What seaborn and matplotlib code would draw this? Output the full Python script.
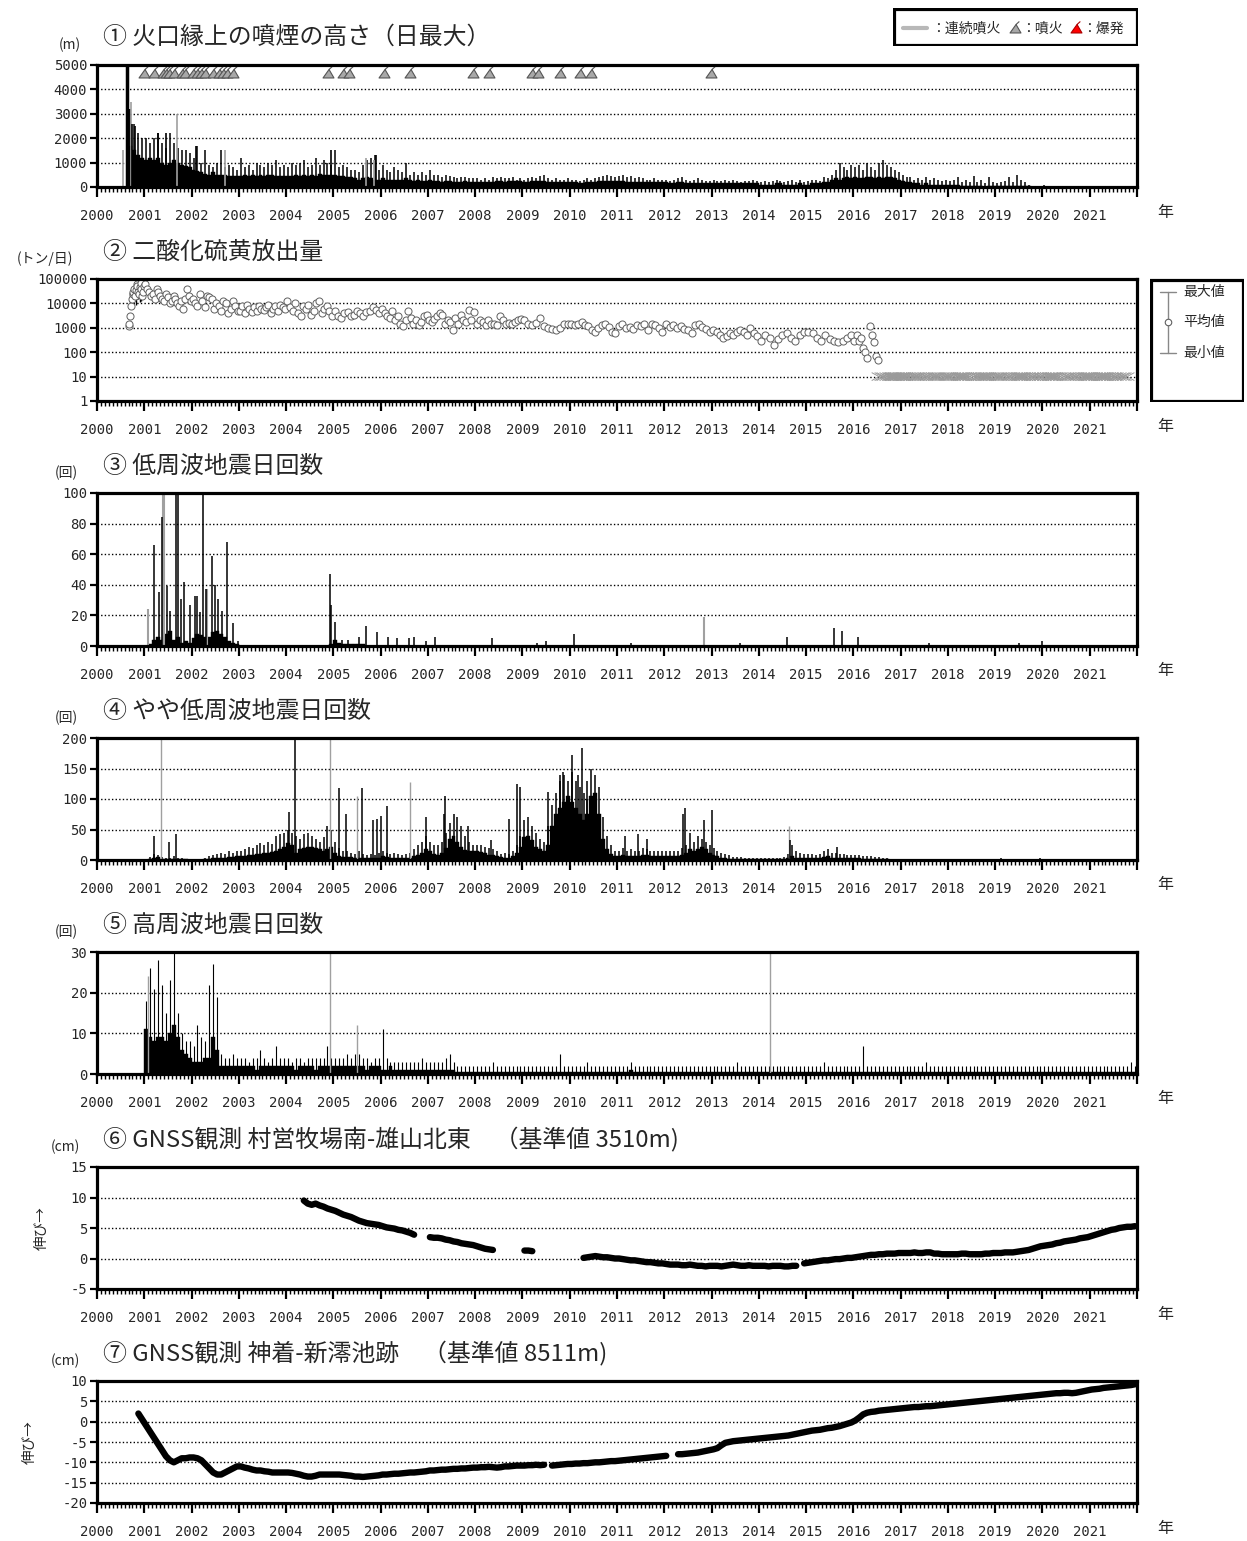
"""
Miyakejima volcanic activity summary (2000-2021), redrawn with seaborn
"""

import numpy as np
import pandas as pd
import matplotlib
matplotlib.use("Agg")
import matplotlib.pyplot as plt
from matplotlib.path import Path
from matplotlib.patches import Rectangle
import seaborn as sns

nan = np.nan
W, H = 1247, 1541

# ---------------------------------------------------------------- data
# (1) plume height above crater rim, monthly level / monthly peak (m), Jan 2000 - Dec 2021
plume_base = [
    0, 0, 0, 0, 0, 0, 0, 0, 1700, 1500, 1300, 1200,           # 2000
    1100, 1200, 1100, 1200, 1000, 900, 1000, 1100, 1000, 900, 850, 800,
    700, 650, 600, 550, 500, 600, 500, 500, 500, 450, 450, 450,
    450, 500, 450, 500, 450, 500, 450, 500, 500, 450, 450, 450,
    450, 450, 500, 450, 500, 450, 500, 450, 550, 500, 500, 500,
    500, 450, 450, 400, 400, 350, 300, 350, 400, 350, 300, 300,  # 2005
    350, 300, 300, 300, 300, 300, 350, 300, 250, 300, 250, 250,
    300, 250, 250, 200, 250, 250, 200, 200, 200, 250, 200, 200,
    200, 200, 200, 200, 200, 250, 250, 200, 250, 250, 250, 250,
    200, 200, 250, 250, 250, 250, 200, 200, 200, 200, 200, 200,
    200, 200, 150, 150, 200, 200, 200, 250, 250, 250, 250, 250,  # 2010
    250, 250, 200, 200, 200, 200, 200, 200, 200, 200, 200, 200,
    200, 150, 150, 200, 200, 150, 150, 150, 150, 150, 150, 150,
    150, 150, 150, 150, 150, 150, 150, 150, 150, 150, 150, 150,
    100, 100, 100, 100, 150, 150, 100, 100, 100, 100, 150, 100,
    100, 150, 150, 150, 200, 200, 300, 350, 300, 350, 400, 350,  # 2015
    400, 350, 350, 400, 400, 350, 400, 350, 400, 400, 350, 300,
    250, 200, 200, 150, 150, 100, 150, 100, 100, 100, 100, 100,
    100, 100, 80, 50, 50, 50, 50, 50, 50, 0, 50, 50,
    50, 50, 50, 50, 50, 50, 50, 50, 50, 0, 0, 0,
    0, 0, 0, 0, 0, 0, 0, 0, 0, 0, 0, 0,                       # 2020
    0, 0, 0, 0, 0, 0, 0, 0, 0, 0, 0, 0,
]
plume_peak = [
    0, 0, 0, 0, 0, 0, 0, 0, 3200, 2600, 2200, 2000,
    2000, 1800, 2000, 2200, 1800, 1600, 2200, 1800, 1600, 1500, 1500, 1400,
    1200, 1700, 1000, 1500, 900, 800, 1000, 1500, 800, 900, 800, 700,
    1200, 800, 900, 700, 1000, 900, 800, 1000, 900, 1100, 800, 900,
    800, 1000, 900, 1000, 1100, 800, 900, 1200, 900, 1100, 1000, 900,
    1500, 800, 900, 800, 700, 700, 600, 900, 1100, 1200, 1300, 700,
    900, 700, 600, 800, 700, 600, 1000, 500, 600, 500, 600, 500,
    700, 500, 500, 400, 500, 450, 400, 350, 400, 400, 350, 350,
    350, 300, 350, 300, 400, 350, 400, 350, 350, 400, 300, 350,
    300, 350, 400, 350, 450, 500, 350, 300, 350, 300, 300, 350,
    300, 300, 250, 300, 350, 300, 350, 400, 450, 500, 450, 400,
    450, 500, 400, 450, 350, 400, 350, 300, 300, 350, 300, 300,
    300, 250, 300, 350, 400, 300, 250, 300, 350, 300, 250, 250,
    300, 250, 250, 300, 250, 300, 250, 200, 250, 250, 300, 250,
    200, 250, 200, 250, 300, 250, 200, 250, 300, 200, 300, 200,
    250, 300, 300, 250, 400, 350, 500, 700, 1000, 800, 700, 900,
    800, 900, 700, 1000, 800, 700, 1000, 1100, 900, 800, 700, 600,
    500, 400, 400, 300, 350, 300, 400, 300, 350, 300, 250, 300,
    250, 300, 400, 200, 300, 200, 450, 200, 300, 150, 400, 200,
    150, 200, 250, 400, 200, 500, 300, 200, 100, 0, 0, 0,
    100, 0, 0, 0, 0, 0, 0, 0, 0, 0, 0, 0,
    0, 0, 0, 0, 0, 0, 0, 0, 0, 0, 0, 0,
]
plume_spike_t = [2000.63, 2000.68, 2000.75, 2000.80, 2001.30, 2001.45, 2002.10, 2004.95, 2005.90]
plume_spike_v = [5000, 3200, 2600, 2500, 2200, 2200, 1700, 1500, 1300]
plume_gray_t = [2000.55, 2000.72, 2001.70, 2002.70, 2005.70, 2005.85]
plume_gray_v = [1500, 3500, 3000, 1500, 1200, 1100]
eruption_t = [2001.00, 2001.21, 2001.39, 2001.46, 2001.52, 2001.63, 2001.79, 2001.86,
              2002.04, 2002.12, 2002.21, 2002.28, 2002.46, 2002.58, 2002.67, 2002.75,
              2002.88, 2004.88, 2005.21, 2005.33, 2006.08, 2006.63, 2007.96, 2008.29,
              2009.21, 2009.33, 2009.79, 2010.21, 2010.46, 2012.98]

# (2) SO2 emission (t/day), survey values per year
so2_2000 = [1200, 1500, 3000, 8000, 15000, 25000, 30000, 40000, 20000, 35000,
            60000, 50000, 30000, 25000, 45000, 70000, 40000, 20000, 30000, 50000]
so2_2001 = [60000, 40000, 30000, 20000, 25000, 15000, 40000, 30000, 20000, 15000, 12000, 25000,
            18000, 10000, 12000, 20000, 15000, 10000, 8000, 12000, 6000, 15000, 40000, 20000, 12000]
so2_2002 = [15000, 10000, 8000, 25000, 12000, 7000, 20000, 18000, 15000, 6000,
            10000, 8000, 5000, 12000, 10000, 4000, 6000, 12000, 8000, 5000]
so2_2003 = [5000, 8000, 4000, 9000, 6000, 4500, 7000, 5000, 8000, 6000,
            5500, 7000, 9000, 4000, 6000, 8000, 5000, 9000, 7000, 6000]
so2_2004 = [12000, 7000, 5000, 10000, 4000, 3000, 8000, 6000, 9000, 3500,
            5000, 10000, 12000, 4000, 6000, 8000, 5000, 3000]
so2_2005 = [5000, 3000, 2500, 4000, 4500, 3000, 3500, 5000, 4000, 3000, 4500, 5000, 7000, 5500, 4000]
so2_2006 = [6000, 4000, 3000, 2500, 5000, 2000, 3000, 1500, 1200, 2000, 5000, 2500,
            1500, 2000, 1300, 1800, 3000, 3500]
so2_2007 = [2000, 1800, 2200, 3000, 4000, 3500, 1500, 2000, 1800, 800, 2500, 1500,
            3500, 2000, 1700, 5500, 2000, 4500]
so2_2008 = [1500, 2000, 1800, 1300, 2000, 1500, 1400, 1300, 3000, 2000, 1500, 1600, 1400, 1800, 2000, 2200]
so2_2009 = [2000, 1500, 1300, 1600, 2500, 1200, 1000, 900, 800, 1000, 1500, 1400]
so2_2010 = [1500, 1300, 1400, 1700, 1300, 1200, 800, 700, 1000, 1300, 1400, 1100, 700, 600]
so2_2011 = [1200, 1400, 1000, 1100, 900, 1300, 1200, 1500, 800, 1400, 1300, 1000, 700]
so2_2012 = [1400, 1100, 1300, 1000, 1200, 900, 800, 600, 1300, 1400, 1100, 900, 700]
so2_2013 = [800, 700, 500, 400, 450, 600, 500, 700, 800, 650, 500, 1000, 600, 450]
so2_2014 = [300, 500, 400, 200, 350, 500, 600, 400, 300, 500, 650]
so2_2015 = [700, 600, 400, 300, 500, 350, 300, 250, 300, 400, 500]
so2_2016 = [300, 500, 300, 400, 150, 100, 60, 1200, 500, 250, 70, 50]
so2_err_t = [2000.70, 2000.74, 2000.78, 2000.82, 2000.86, 2000.90, 2000.94]
so2_err_lo = [8000, 10000, 12000, 9000, 15000, 11000, 13000]
so2_err_hi = [30000, 40000, 35000, 45000, 40000, 30000, 38000]
# below detection (plotted at 10 t/day): surveys per month, Jul 2016 - Oct 2021
so2_low_count = [
    1, 2, 1, 3, 3, 2,
    3, 2, 1, 2, 2, 1, 2, 1, 2, 2, 1, 2,
    2, 1, 2, 3, 2, 1, 1, 2, 2, 3, 2, 1,
    2, 2, 1, 2, 1, 2, 3, 2, 1, 2, 1, 2,
    1, 2, 3, 2, 1, 1, 2, 1, 2, 1, 2, 3,
    2, 1, 2, 3, 2, 1, 2, 1, 2, 1,
]
SO2_LOW = 10

# (3) low-frequency earthquakes per day, monthly level, Jan 2000 - Dec 2005
lf_base = [
    0, 0, 0, 0, 0, 0, 0, 0, 0, 0, 0, 0,
    0, 1, 4, 6, 4, 8, 10, 4, 6, 2, 3, 2,
    5, 8, 7, 6, 6, 9, 10, 8, 6, 3, 2, 1,
    0, 0, 0, 0, 0, 0, 0, 0, 0, 0, 0, 0,
    0, 0, 0, 0, 0, 0, 0, 0, 0, 0, 0, 1,
    4, 2, 1, 1, 1, 1, 1, 1, 0, 0, 0, 0,
]
lf_spike_t = [2001.21, 2001.32, 2001.375, 2001.48, 2001.54, 2001.68, 2001.72, 2001.77, 2001.85,
              2001.96, 2002.07, 2002.11, 2002.17, 2002.25, 2002.30, 2002.44, 2002.50, 2002.57,
              2002.65, 2002.75, 2002.87, 2002.98, 2004.925, 2004.96, 2005.04, 2005.18, 2005.30,
              2005.55, 2005.68, 2005.92, 2006.15, 2006.35, 2006.60, 2006.70, 2006.95, 2007.15,
              2008.35, 2009.30, 2009.50, 2010.08, 2011.30, 2013.60, 2014.60, 2015.60, 2015.75,
              2016.10, 2017.60, 2019.50, 2020.00]
lf_spike_v = [66, 35, 84, 39, 23, 100, 100, 31, 42, 27, 33, 33, 22, 100, 37, 59, 40, 31, 23, 68,
              15, 3, 47, 27, 16, 4, 4, 6, 13, 9, 6, 5, 5, 6, 3, 6, 5, 2, 3, 8, 2, 2, 6, 12, 10,
              6, 2, 2, 3]
lf_gray_t = [2001.07, 2001.39, 2001.41, 2002.33, 2012.85]
lf_gray_v = [24, 100, 100, 37, 19]

# (4) slightly-low-frequency earthquakes per day, monthly level / peak
vlf_base = [
    0, 0, 0, 0, 0, 0, 0, 0, 0, 0, 0, 0,
    0, 2, 4, 5, 2, 2, 1, 2, 1, 1, 1, 0,
    0, 0, 0, 1, 2, 3, 3, 4, 4, 5, 5, 6,
    6, 7, 8, 8, 10, 10, 12, 12, 13, 15, 18, 22,
    28, 25, 12, 18, 20, 22, 22, 20, 18, 15, 18, 22,
    12, 7, 5, 5, 5, 4, 4, 4, 3, 3, 3, 4,
    6, 5, 4, 4, 4, 3, 3, 4, 6, 8, 12, 18,
    14, 10, 9, 12, 20, 35, 40, 30, 22, 17, 14, 14,
    14, 13, 11, 9, 9, 7, 5, 4, 4, 6, 12, 22,
    38, 40, 32, 22, 18, 14, 25, 55, 75, 85, 95, 105,
    95, 85, 75, 65, 75, 105, 110, 75, 35, 18, 10, 7,
    7, 9, 7, 7, 7, 7, 8, 8, 7, 7, 7, 7,
    7, 7, 7, 7, 9, 12, 18, 14, 18, 22, 18, 12,
    9, 7, 4, 3, 2, 2, 1, 1, 1, 1, 1, 1,
    1, 1, 1, 1, 1, 1, 2, 3, 6, 4, 4, 4,
    4, 3, 3, 4, 5, 6, 4, 4, 3, 3, 3, 3,
    3, 3, 2, 2, 2, 2, 2, 1, 1, 0, 0, 0,
    0, 0, 0, 0, 0, 0, 0, 0, 0, 0, 0, 0,
    0, 0, 0, 0, 0, 0, 0, 0, 0, 0, 0, 0,
    0, 0, 0, 0, 0, 0, 0, 0, 0, 0, 0, 0,
    0, 0, 0, 0, 0, 0, 0, 0, 0, 0, 0, 0,
    0, 0, 0, 0, 0, 0, 0, 0, 0, 0, 0, 0,
]
vlf_peak = [
    0, 0, 0, 0, 0, 0, 0, 0, 0, 0, 0, 0,
    0, 5, 10, 8, 5, 4, 3, 6, 4, 3, 2, 2,
    0, 0, 2, 3, 6, 8, 10, 12, 10, 14, 12, 15,
    15, 18, 22, 20, 25, 28, 25, 30, 26, 40, 42, 45,
    50, 45, 40, 35, 42, 45, 40, 35, 30, 38, 55, 50,
    30, 20, 15, 15, 12, 10, 15, 10, 8, 10, 8, 12,
    15, 12, 10, 12, 10, 8, 10, 12, 18, 25, 30, 40,
    30, 25, 25, 30, 45, 60, 75, 70, 55, 40, 30, 25,
    25, 25, 22, 20, 18, 15, 10, 12, 10, 15, 25, 40,
    65, 70, 55, 45, 35, 30, 55, 90, 110, 130, 140, 130,
    145, 130, 120, 110, 130, 150, 140, 120, 70, 40, 25, 15,
    15, 20, 15, 18, 15, 15, 20, 18, 15, 15, 15, 15,
    15, 15, 15, 15, 20, 25, 45, 30, 40, 35, 30, 25,
    20, 15, 12, 10, 8, 5, 5, 5, 3, 3, 3, 3,
    3, 3, 3, 3, 3, 3, 5, 10, 25, 15, 12, 10,
    10, 10, 8, 10, 15, 18, 12, 12, 10, 10, 8, 8,
    8, 8, 6, 6, 6, 5, 5, 4, 3, 2, 1, 1,
    0, 1, 0, 0, 1, 0, 0, 0, 0, 0, 0, 0,
    2, 0, 0, 0, 0, 0, 0, 0, 0, 0, 0, 0,
    0, 3, 0, 0, 0, 0, 0, 0, 0, 0, 0, 3,
    2, 0, 0, 0, 0, 0, 0, 0, 0, 0, 0, 0,
    0, 0, 0, 0, 0, 0, 0, 0, 0, 0, 1, 0,
]
vlf_spike_t = [2001.21, 2001.52, 2001.67, 2004.07, 2004.19, 2005.11, 2005.26, 2005.61, 2005.83,
               2005.92, 2006.00, 2006.13, 2006.97, 2007.35, 2007.37, 2007.85, 2008.33, 2008.71,
               2008.875, 2008.94, 2009.54, 2009.79, 2009.85, 2010.04, 2010.17, 2010.25, 2010.37,
               2010.46, 2011.16, 2011.44, 2011.63, 2012.39, 2012.43, 2012.85, 2013.02, 2014.66,
               2015.65]
vlf_spike_v = [40, 30, 43, 78, 200, 118, 75, 118, 65, 68, 72, 88, 70, 75, 105, 55, 32, 68, 125,
               120, 112, 140, 145, 172, 140, 183, 100, 90, 40, 42, 35, 75, 85, 65, 82, 32, 22]
vlf_gray_t = [2001.35, 2004.93, 2005.50, 2006.63, 2014.64]
vlf_gray_v = [200, 200, 105, 128, 55]

# (5) high-frequency earthquakes per day, monthly level / peak
hf_base = [
    0, 0, 0, 0, 0, 0, 0, 0, 0, 0, 0, 0,
    11, 9, 8, 9, 9, 8, 10, 12, 9, 6, 5, 4,
    3, 3, 3, 4, 4, 9, 6, 2, 2, 2, 2, 2,
    2, 2, 2, 2, 1, 2, 2, 2, 2, 2, 2, 2,
    2, 2, 1, 2, 2, 2, 2, 1, 2, 2, 2, 2,
    2, 2, 2, 2, 2, 2, 2, 2, 1, 2, 2, 2,
    1, 1, 2, 1, 1, 1, 1, 1, 1, 1, 1, 1,
    1, 1, 1, 1, 1, 1, 1, 0.5, 0.5, 0.5, 0.5, 0.5,
    0.5, 0.5, 0.5, 0.5, 0.5, 0.5, 0.5, 0.5, 0.5, 0.5, 0.5, 0.5,
    0.5, 0.5, 0.5, 0.5, 0.5, 0.5, 0.5, 0.5, 0.5, 0.5, 0.5, 0.5,
    0.5, 0.5, 0.5, 0.5, 0.5, 0.5, 0.5, 0.5, 0.5, 0.5, 0.5, 0.5,
    0.5, 0.5, 0.5, 1, 0.5, 0.5, 0.5, 0.5, 0.5, 0.5, 0.5, 0.5,
    0.5, 0.5, 0.5, 0.5, 0.5, 0.5, 0.5, 0.5, 0.5, 0.5, 0.5, 0.5,
    0.5, 0.5, 0.5, 0.5, 0.5, 0.5, 0.5, 0.5, 0.5, 0.5, 0.5, 0.5,
    0.5, 0.5, 0.5, 0.5, 0.5, 0.5, 0.5, 0.5, 0.5, 0.5, 0.5, 0.5,
    0.5, 0.5, 0.5, 0.5, 0.5, 0.5, 0.5, 0.5, 0.5, 0.5, 0.5, 0.5,
    0.5, 0.5, 0.5, 0.5, 0.5, 0.5, 0.5, 0.5, 0.5, 0.5, 0.5, 0.5,
    0.5, 0.5, 0.5, 0.5, 0.5, 0.5, 0.5, 0.5, 0.5, 0.5, 0.5, 0.5,
    0.5, 0.5, 0.5, 0.5, 0.5, 0.5, 0.5, 0.5, 0.5, 0.5, 0.5, 0.5,
    0.5, 0.5, 0.5, 0.5, 0.5, 0.5, 0.5, 0.5, 0.5, 0.5, 0.5, 0.5,
    0.5, 0.5, 0.5, 0.5, 0.5, 0.5, 0.5, 0.5, 0.5, 0.5, 0.5, 0.5,
    0.5, 0.5, 0.5, 0.5, 0.5, 0.5, 0.5, 0.5, 0.5, 0.5, 0.5, 0.5,
]
hf_peak = [
    0, 0, 0, 0, 0, 0, 0, 0, 0, 0, 0, 0,
    18, 26, 21, 28, 22, 15, 23, 30, 15, 10, 8, 8,
    7, 12, 9, 8, 22, 27, 19, 5, 4, 4, 5, 4,
    4, 4, 3, 4, 4, 6, 4, 3, 4, 7, 4, 4,
    4, 3, 4, 4, 3, 4, 4, 4, 4, 4, 7, 4,
    4, 4, 4, 5, 4, 5, 5, 4, 4, 3, 4, 4,
    11, 4, 3, 3, 3, 3, 3, 3, 3, 3, 4, 3,
    3, 3, 3, 3, 4, 5, 3, 2, 2, 2, 2, 2,
    2, 2, 2, 2, 3, 2, 2, 2, 2, 2, 2, 2,
    2, 2, 2, 2, 2, 2, 2, 2, 2, 5, 2, 2,
    2, 2, 2, 2, 3, 2, 2, 2, 2, 2, 2, 2,
    2, 2, 2, 3, 2, 2, 2, 2, 2, 2, 2, 2,
    2, 2, 2, 2, 2, 2, 2, 2, 2, 2, 2, 2,
    2, 2, 2, 2, 2, 2, 3, 2, 2, 2, 2, 2,
    2, 2, 2, 2, 2, 2, 2, 2, 2, 2, 2, 2,
    2, 2, 2, 2, 3, 2, 2, 2, 2, 2, 2, 2,
    2, 2, 7, 2, 2, 2, 2, 2, 2, 2, 2, 2,
    2, 2, 2, 2, 2, 2, 3, 2, 2, 2, 2, 2,
    2, 2, 2, 2, 2, 2, 2, 2, 2, 2, 2, 2,
    2, 2, 2, 2, 2, 2, 2, 2, 2, 2, 2, 2,
    2, 2, 2, 2, 2, 2, 2, 2, 2, 2, 2, 2,
    2, 2, 2, 2, 2, 2, 2, 2, 2, 2, 3, 2,
]
hf_gray_t = [2001.07, 2004.93, 2005.50, 2014.23]
hf_gray_v = [24, 30, 12, 30]

# (6) GNSS baseline, 村営牧場南-雄山北東 (cm), monthly, Jan 2004 - Dec 2021
gnss6 = [
    nan, nan, nan, nan, 9.5, 9.0, 8.8, 9.0, 8.7, 8.5, 8.2, 8.0,      # 2004
    7.8, 7.5, 7.2, 7.0, 6.8, 6.5, 6.2, 6.0, 5.8, 5.7, 5.6, 5.5,
    5.3, 5.1, 5.0, 4.9, 4.7, 4.6, 4.4, 4.2, 3.9, nan, nan, nan,
    3.5, 3.4, 3.4, 3.3, 3.1, 3.0, 2.8, 2.7, 2.5, 2.4, 2.3, 2.2,
    2.0, 1.8, 1.6, 1.5, 1.4, nan, nan, nan, nan, nan, nan, nan,
    1.3, 1.3, 1.2, nan, nan, nan, nan, nan, nan, nan, nan, nan,    # 2009
    nan, nan, nan, 0.1, 0.2, 0.3, 0.4, 0.3, 0.2, 0.2, 0.1, 0.0,
    0.0, -0.1, -0.2, -0.3, -0.3, -0.4, -0.5, -0.6, -0.6, -0.7, -0.8, -0.8,
    -0.9, -1.0, -1.0, -1.0, -1.1, -1.1, -1.0, -1.1, -1.2, -1.2, -1.3, -1.2,
    -1.2, -1.2, -1.3, -1.2, -1.1, -1.0, -1.1, -1.2, -1.2, -1.1, -1.2, -1.2,
    -1.2, -1.2, -1.3, -1.2, -1.2, -1.2, -1.3, -1.3, -1.2, -1.2, nan, -0.8,
    -0.7, -0.6, -0.5, -0.4, -0.3, -0.3, -0.2, -0.1, -0.1, 0.0, 0.1, 0.1,  # 2015
    0.2, 0.3, 0.4, 0.5, 0.6, 0.6, 0.7, 0.7, 0.8, 0.8, 0.8, 0.9,
    0.9, 0.9, 0.9, 1.0, 0.9, 0.9, 1.0, 1.0, 0.8, 0.8, 0.7, 0.7,
    0.7, 0.7, 0.7, 0.8, 0.8, 0.7, 0.7, 0.7, 0.7, 0.8, 0.8, 0.9,
    0.9, 0.9, 1.0, 1.0, 1.0, 1.1, 1.2, 1.3, 1.4, 1.6, 1.8, 2.0,
    2.1, 2.2, 2.3, 2.5, 2.6, 2.8, 2.9, 3.0, 3.1, 3.3, 3.4, 3.5,
    3.7, 3.9, 4.1, 4.3, 4.5, 4.7, 4.8, 5.0, 5.1, 5.2, 5.2, 5.3,
]
# (7) GNSS baseline, 神着-新澪池跡 (cm), monthly, Jan 2000 - Dec 2021
gnss7 = [
    nan, nan, nan, nan, nan, nan, nan, nan, nan, nan, 2.0, 0.5,
    -1.0, -2.5, -4.0, -5.5, -7.0, -8.5, -9.5, -10.0, -9.5, -9.0, -9.0, -8.8,
    -8.8, -9.0, -9.5, -10.5, -11.5, -12.5, -13.0, -13.0, -12.5, -12.0, -11.5, -11.0,
    -11.0, -11.3, -11.5, -11.8, -12.0, -12.0, -12.2, -12.3, -12.5, -12.5, -12.5, -12.5,
    -12.5, -12.6, -12.8, -13.0, -13.3, -13.5, -13.5, -13.3, -13.0, -13.0, -13.0, -13.0,
    -13.0, -13.0, -13.1, -13.2, -13.3, -13.5, -13.5, -13.6, -13.5, -13.4, -13.3, -13.2,
    -13.0, -13.0, -12.9, -12.8, -12.8, -12.7, -12.6, -12.5, -12.5, -12.4, -12.3, -12.2,
    -12.0, -12.0, -11.9, -11.8, -11.8, -11.7, -11.6, -11.6, -11.5, -11.5, -11.4, -11.3,
    -11.3, -11.2, -11.2, -11.1, -11.2, -11.3, -11.2, -11.0, -11.0, -10.9, -10.8, -10.8,
    -10.8, -10.7, -10.7, -10.6, -10.7, -10.6, nan, -10.8, -10.7, -10.6, -10.5, -10.4,
    -10.4, -10.3, -10.3, -10.2, -10.2, -10.1, -10.0, -10.0, -9.9, -9.8, -9.7, -9.7,
    -9.6, -9.5, -9.4, -9.3, -9.2, -9.1, -9.0, -8.9, -8.8, -8.7, -8.6, -8.5,
    -8.4, nan, nan, -8.0, -8.0, -7.9, -7.8, -7.7, -7.6, -7.4, -7.2, -7.0,
    -6.8, -6.5, -5.8, -5.2, -5.0, -4.8, -4.7, -4.6, -4.5, -4.4, -4.3, -4.2,
    -4.1, -4.0, -3.9, -3.8, -3.7, -3.6, -3.5, -3.4, -3.2, -3.0, -2.8, -2.6,
    -2.4, -2.2, -2.1, -2.0, -1.8, -1.6, -1.5, -1.3, -1.1, -0.8, -0.5, -0.2,
    0.3, 1.0, 1.8, 2.2, 2.4, 2.5, 2.7, 2.8, 2.9, 3.0, 3.1, 3.2,
    3.3, 3.4, 3.5, 3.6, 3.6, 3.7, 3.8, 3.8, 3.9, 4.0, 4.1, 4.2,
    4.3, 4.4, 4.5, 4.6, 4.7, 4.8, 4.9, 5.0, 5.1, 5.2, 5.3, 5.4,
    5.5, 5.6, 5.7, 5.8, 5.9, 6.0, 6.1, 6.2, 6.3, 6.4, 6.5, 6.6,
    6.7, 6.8, 6.9, 7.0, 7.0, 7.1, 7.1, 7.0, 7.1, 7.3, 7.5, 7.7,
    7.9, 8.0, 8.1, 8.3, 8.4, 8.5, 8.6, 8.7, 8.8, 8.9, 9.0, 9.2,
]

year_labels = [str(y) for y in range(2000, 2022)]
titles = [
    "① 火口縁上の噴煙の高さ（日最大）",
    "② 二酸化硫黄放出量",
    "③ 低周波地震日回数",
    "④ やや低周波地震日回数",
    "⑤ 高周波地震日回数",
    "⑥ GNSS観測 村営牧場南-雄山北東　（基準値 3510m)",
    "⑦ GNSS観測 神着-新澪池跡　（基準値 8511m)",
]
units = ["(m)", "(トン/日)", "(回)", "(回)", "(回)", "(cm)", "(cm)"]

# ---------------------------------------------------------------- style
sns.set_theme(style="ticks")
plt.rcParams["font.family"] = ["Noto Sans CJK JP", "DejaVu Sans"]
plt.rcParams["axes.unicode_minus"] = False
JP = ["Noto Sans CJK JP", "DejaVu Sans"]
MONO = "DejaVu Sans Mono"
GRAY = "#a0a0a0"


def fx(px):
    return px / W


def fy(py):
    return 1 - py / H


def month_start(n, start=2000):
    return start + np.arange(n) / 12.0


def panel(fig, top, bottom):
    return fig.add_axes([fx(97), fy(bottom), fx(1137) - fx(97), (bottom - top) / H])


def style_axis(ax, yticks, ylabels, grid, log=False):
    ax.set_xlim(2000, 2022)
    if log:
        ax.set_yscale("log")
    ax.set_ylim(yticks[0], yticks[-1])
    ax.set_xticks(np.arange(2000, 2023))
    ax.set_xticklabels(year_labels + [""], fontfamily=MONO, fontsize=10)
    ax.set_xticks(month_start(12 * 22 + 1), minor=True)
    ax.set_yticks(yticks)
    ax.set_yticklabels(ylabels, fontfamily=MONO, fontsize=10)
    ax.yaxis.set_minor_locator(matplotlib.ticker.NullLocator())
    for g in grid:
        ax.axhline(g, color="black", lw=1.0, ls=(0, (1, 1.6)), zorder=0.5)
    for s in ax.spines.values():
        s.set_visible(True)
        s.set_linewidth(2.3)
        s.set_color("black")
        s.set_zorder(5)
    ax.tick_params(axis="x", which="major", direction="out", length=7, width=1.6,
                   pad=9, color="black")
    ax.tick_params(axis="x", which="minor", direction="out", length=3.5, width=1.0,
                   color="black")
    ax.tick_params(axis="y", which="major", direction="out", length=5, width=1.6,
                   pad=2, color="black")
    ax.set_xlabel("")
    ax.set_ylabel("")


def bars(ax, base, peak=None, peak_lw=1.1):
    x = month_start(len(base))
    ax.bar(x, base, width=1 / 12, align="edge", color="black", edgecolor="black",
           linewidth=0.3, zorder=2)
    if peak is not None:
        xp = month_start(len(peak))
        ax.vlines(xp + 1 / 24, 0, peak, color="black", lw=peak_lw, zorder=2)


def gnss_line(ax, values, start):
    df = pd.DataFrame({"t": start + (np.arange(len(values)) + 0.5) / 12.0, "v": values})
    df["seg"] = df["v"].isna().cumsum()
    df = df.dropna()
    sns.lineplot(data=df, x="t", y="v", units="seg", estimator=None, color="black",
                 lw=4.6, solid_capstyle="round", ax=ax, legend=False, zorder=3)


fig = plt.figure(figsize=(W / 100, H / 100), dpi=100)
tops = [65, 279, 493, 738, 952, 1167, 1381]
bottoms = [187, 401, 646, 860, 1074, 1289, 1503]
axes = [panel(fig, t, b) for t, b in zip(tops, bottoms)]

# --- (1) plume height
ax = axes[0]
bars(ax, plume_base, plume_peak)
ax.vlines(plume_gray_t, 0, plume_gray_v, color=GRAY, lw=1.2, zorder=2)
ax.vlines(plume_spike_t, 0, plume_spike_v, color="black", lw=1.2, zorder=2)
ax.vlines(plume_spike_t[:1], 0, plume_spike_v[:1], color="black", lw=2.5, zorder=2)
volcano = Path([(-1, -1), (1, -1), (0.1, 0.55), (-1, -1), (0.1, 0.55), (0.7, 1.1)],
               [Path.MOVETO, Path.LINETO, Path.LINETO, Path.CLOSEPOLY, Path.MOVETO, Path.LINETO])
sns.scatterplot(x=eruption_t, y=[4700] * len(eruption_t), marker=volcano, s=75,
                color="#a8a8a8", edgecolor="#555555", linewidth=0.8, ax=ax, zorder=4)
style_axis(ax, [0, 1000, 2000, 3000, 4000, 5000],
           ["0", "1000", "2000", "3000", "4000", "5000"], [1000, 2000, 3000, 4000])

# legend box for (1)
lg = fig.add_axes([fx(893), fy(46), fx(1138) - fx(893), (46 - 8) / H])
lg.set_xlim(893, 1138)
lg.set_ylim(46, 8)
lg.axis("off")
lg.add_patch(Rectangle((894, 9), 243, 36, fill=False, lw=2.3, edgecolor="black"))
lg.plot([903, 927], [28, 28], color="#b8b8b8", lw=3)
lg.text(931, 28.5, "：連続噴火", va="center", ha="left", fontsize=10, family=JP)
lg.scatter([1015], [27], marker=volcano, s=75, color="#a8a8a8", edgecolor="#555555", lw=0.8)
lg.text(1021, 28.5, "：噴火", va="center", ha="left", fontsize=10, family=JP)
lg.scatter([1076], [27], marker=volcano, s=75, color="#ff0000", edgecolor="#aa0000", lw=0.8)
lg.text(1082, 28.5, "：爆発", va="center", ha="left", fontsize=10, family=JP)

# --- (2) SO2
ax = axes[1]
so2_lists = [so2_2000, so2_2001, so2_2002, so2_2003, so2_2004, so2_2005, so2_2006, so2_2007,
             so2_2008, so2_2009, so2_2010, so2_2011, so2_2012, so2_2013, so2_2014, so2_2015,
             so2_2016]
so2_t, so2_v = [], []
for k, vals in enumerate(so2_lists):
    yr = 2000 + k
    lo, hi = (0.66, 1.0) if yr == 2000 else ((0.0, 0.55) if yr == 2016 else (0.0, 1.0))
    n = len(vals)
    so2_t += list(yr + lo + (hi - lo) * (np.arange(n) + 0.5) / n)
    so2_v += vals
ax.vlines(so2_err_t, so2_err_lo, so2_err_hi, color="black", lw=1.0, zorder=2)
sns.scatterplot(x=so2_t, y=so2_v, marker="o", s=26, facecolor="white", edgecolor="#606060",
                linewidth=0.7, ax=ax, zorder=3)
low_t = []
for m, c in enumerate(so2_low_count):
    m0 = 2016 + (6 + m) / 12.0
    low_t += list(m0 + (np.arange(c) + 0.5) / c / 12.0)
flat_x = Path([(-1, -0.55), (1, 0.55), (-1, 0.55), (1, -0.55)],
              [Path.MOVETO, Path.LINETO, Path.MOVETO, Path.LINETO])
ax.scatter(low_t, [SO2_LOW] * len(low_t), marker=flat_x, s=110, facecolor="none",
           edgecolor="#9a9a9a", lw=0.7, zorder=3)
style_axis(ax, [1, 10, 100, 1000, 10000, 100000],
           ["1", "10", "100", "1000", "10000", "100000"], [10, 100, 1000, 10000], log=True)

# legend box for (2)
lg2 = fig.add_axes([fx(1150), fy(402), fx(1244) - fx(1150), (402 - 278) / H])
lg2.set_xlim(1150, 1244)
lg2.set_ylim(402, 278)
lg2.axis("off")
lg2.add_patch(Rectangle((1151, 280), 92, 121, fill=False, lw=2.3, edgecolor="black"))
lg2.plot([1168, 1168], [292, 353], color="#888888", lw=1.0)
lg2.plot([1160, 1176], [292, 292], color="#888888", lw=1.0)
lg2.plot([1160, 1176], [353, 353], color="#888888", lw=1.0)
lg2.scatter([1168], [322], s=22, facecolor="white", edgecolor="#606060", lw=0.8, zorder=3)
for yy, lab in zip([292, 322, 353], ["最大値", "平均値", "最小値"]):
    lg2.text(1183, yy, lab, va="center", ha="left", fontsize=10, family=JP)

# --- (3) low frequency
ax = axes[2]
bars(ax, lf_base)
ax.vlines(lf_gray_t, 0, lf_gray_v, color=GRAY, lw=1.5, zorder=2)
ax.vlines(lf_spike_t, 0, lf_spike_v, color="black", lw=1.1, zorder=2)
style_axis(ax, [0, 20, 40, 60, 80, 100], ["0", "20", "40", "60", "80", "100"], [20, 40, 60, 80])

# --- (4) slightly low frequency
ax = axes[3]
bars(ax, vlf_base, vlf_peak)
ax.vlines(vlf_gray_t, 0, vlf_gray_v, color=GRAY, lw=1.0, zorder=2)
ax.vlines(vlf_spike_t, 0, vlf_spike_v, color="black", lw=1.1, zorder=2)
style_axis(ax, [0, 50, 100, 150, 200], ["0", "50", "100", "150", "200"], [50, 100, 150])

# --- (5) high frequency
ax = axes[4]
bars(ax, hf_base, hf_peak, peak_lw=0.8)
ax.vlines(hf_gray_t, 0, hf_gray_v, color=GRAY, lw=1.0, zorder=2)
style_axis(ax, [0, 10, 20, 30], ["0", "10", "20", "30"], [10, 20])

# --- (6) GNSS
ax = axes[5]
gnss_line(ax, gnss6, 2004)
style_axis(ax, [-5, 0, 5, 10, 15], ["-5", "0", "5", "10", "15"], [0, 5, 10])

# --- (7) GNSS
ax = axes[6]
gnss_line(ax, gnss7, 2000)
style_axis(ax, [-20, -15, -10, -5, 0, 5, 10],
           ["-20", "-15", "-10", "-5", "0", "5", "10"], [-15, -10, -5, 0, 5])

# ---------------------------------------------------------------- texts
title_y = [37, 252, 466, 711, 925, 1140, 1354]
unit_y = [45, 259, 473, 718, 932, 1147, 1361]
unit_x = [70, 45, 66, 66, 66, 65, 65]
for k in range(7):
    fig.text(fx(103), fy(title_y[k]), titles[k], ha="left", va="center", fontsize=17.2,
             family=JP)
    fig.text(fx(unit_x[k]), fy(unit_y[k]), units[k], ha="center", va="center", fontsize=10,
             family=JP)
    fig.text(fx(1165), fy(bottoms[k] + 25), "年", ha="center", va="center", fontsize=11.5,
             family=JP)
fig.text(fx(42), fy(1228), "伸び→", rotation=90, ha="center", va="center", fontsize=10.5,
         family=JP)
fig.text(fx(30), fy(1442), "伸び→", rotation=90, ha="center", va="center", fontsize=10.5,
         family=JP)

fig.savefig("out.png", dpi=100)
plt.close(fig)
